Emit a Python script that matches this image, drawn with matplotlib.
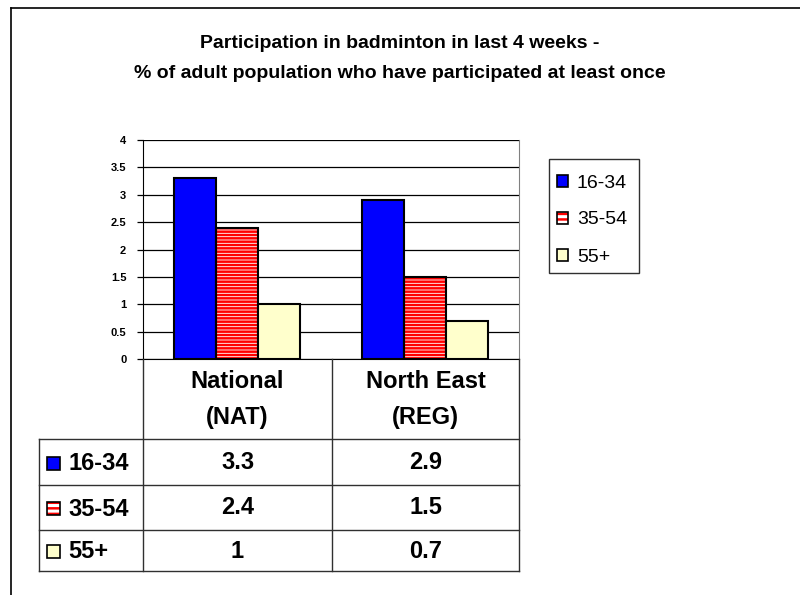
import matplotlib
matplotlib.use("Agg")
import matplotlib.pyplot as plt
from matplotlib.patches import Rectangle
from matplotlib.lines import Line2D
import numpy as np

plt.rcParams['font.family'] = ['Liberation Sans', 'DejaVu Sans']
plt.rcParams['hatch.linewidth'] = 1.8

title_lines = ["Participation in badminton in last 4 weeks -",
               "% of adult population who have participated at least once"]
categories = [("National", "(NAT)"), ("North East", "(REG)")]
series_names = ["16-34", "35-54", "55+"]
values = {
    "16-34": [3.3, 2.9],
    "35-54": [2.4, 1.5],
    "55+": [1.0, 0.7],
}
value_labels = {
    "16-34": ["3.3", "2.9"],
    "35-54": ["2.4", "1.5"],
    "55+": ["1", "0.7"],
}
yticks = [0, 0.5, 1, 1.5, 2, 2.5, 3, 3.5, 4]
ytick_labels = ["0", "0.5", "1", "1.5", "2", "2.5", "3", "3.5", "4"]

styles = {
    "16-34": dict(face="#0000FF", hatch=None),
    "35-54": dict(face="white", hatch="-----", hcolor="#FF0000"),
    "55+": dict(face="#FFFFCC", hatch=None),
}

W, H = 800, 595
fig = plt.figure(figsize=(W / 100, H / 100), dpi=100)

def fx(px):
    return px / W

def fy(py):
    return 1 - py / H

# outer frame (top and left edges visible)
fig.add_artist(Line2D([fx(11), fx(800)], [fy(8), fy(8)], color="black", lw=1.2))
fig.add_artist(Line2D([fx(11), fx(11)], [fy(8), fy(595)], color="black", lw=1.2))

for k, line in enumerate(title_lines):
    fig.text(0.5, fy(42 + 30 * k), line, ha="center", va="center_baseline",
             fontsize=14, fontweight="bold")

# plot area
x0, x1, ytop, ybot = 143, 519, 140, 359
ax = fig.add_axes([fx(x0), fy(ybot), fx(x1 - x0), fy(ytop) - fy(ybot)])
ax.set_xlim(0, len(categories))
ax.set_ylim(0, 4)
ax.set_yticks(yticks)
ax.set_yticklabels(ytick_labels, fontsize=8, fontweight="bold")
ax.set_xticks([])
ax.yaxis.grid(True, color="black", lw=0.9)
ax.set_axisbelow(True)
ax.spines["top"].set_visible(False)
ax.spines["right"].set_color("#808080")
ax.spines["left"].set_color("black")
ax.spines["bottom"].set_color("black")
ax.tick_params(axis="y", length=4, width=0.9, pad=8, direction="out")

bw = 0.2234
xc = np.arange(len(categories)) + 0.5
for i, name in enumerate(series_names):
    xs = xc + (i - 1) * bw
    st = styles[name]
    if st["hatch"]:
        ax.bar(xs, values[name], width=bw, color="white", edgecolor=st["hcolor"],
               hatch=st["hatch"], linewidth=0, zorder=2)
        ax.bar(xs, values[name], width=bw, fill=False, edgecolor="black",
               linewidth=1.5, zorder=3)
    else:
        ax.bar(xs, values[name], width=bw, color=st["face"], edgecolor="black",
               linewidth=1.5, zorder=3)

# data table
def hline(xa, xb, y):
    fig.add_artist(Line2D([fx(xa), fx(xb)], [fy(y), fy(y)], color="#303030", lw=1.0))

def vline(x, ya, yb):
    fig.add_artist(Line2D([fx(x), fx(x)], [fy(ya), fy(yb)], color="#303030", lw=1.0))

col_edges = [143, 332, 519]
row_edges = [439, 485, 530, 571]
for x in col_edges:
    vline(x, 359, 571)
vline(39, 439, 571)
for y in row_edges:
    hline(39, 519, y)

TS = 17
for j, (l1, l2) in enumerate(categories):
    cx = (col_edges[j] + col_edges[j + 1]) / 2
    fig.text(fx(cx), fy(388), l1, ha="center", va="baseline", fontsize=TS,
             fontweight="bold")
    fig.text(fx(cx), fy(424), l2, ha="center", va="baseline", fontsize=TS,
             fontweight="bold")

def legend_patch(xp, yc, size, name, hatch, lw=1.2):
    st = styles[name]
    if st["hatch"]:
        fig.add_artist(Rectangle((fx(xp), fy(yc + size / 2)), fx(size), size / H,
                                 facecolor="white", edgecolor=st["hcolor"],
                                 hatch=hatch, linewidth=0, transform=fig.transFigure))
        fig.add_artist(Rectangle((fx(xp), fy(yc + size / 2)), fx(size), size / H,
                                 fill=False, edgecolor="black", linewidth=lw,
                                 transform=fig.transFigure))
    else:
        fig.add_artist(Rectangle((fx(xp), fy(yc + size / 2)), fx(size), size / H,
                                 facecolor=st["face"], edgecolor="black", linewidth=lw,
                                 transform=fig.transFigure))

for i, name in enumerate(series_names):
    yc = (row_edges[i] + row_edges[i + 1]) / 2
    legend_patch(47, yc + 1, 13, name, "---")
    fig.text(fx(68), fy(yc + 8), name, ha="left", va="baseline", fontsize=TS,
             fontweight="bold")
    for j in range(len(categories)):
        cx = (col_edges[j] + col_edges[j + 1]) / 2
        fig.text(fx(cx), fy(yc + 7), value_labels[name][j], ha="center",
                 va="baseline", fontsize=TS, fontweight="bold")

# legend box
fig.add_artist(Rectangle((fx(549), fy(273)), fx(639 - 549), (273 - 159) / H,
                         fill=False, edgecolor="#303030", linewidth=1.0,
                         transform=fig.transFigure))
for i, name in enumerate(series_names):
    yc = 181 + i * 37
    legend_patch(557, yc, 11, name, "---")
    fig.text(fx(577), fy(yc + 6.5), name, ha="left", va="baseline", fontsize=14)

fig.savefig("out.png", dpi=100, facecolor="white")
